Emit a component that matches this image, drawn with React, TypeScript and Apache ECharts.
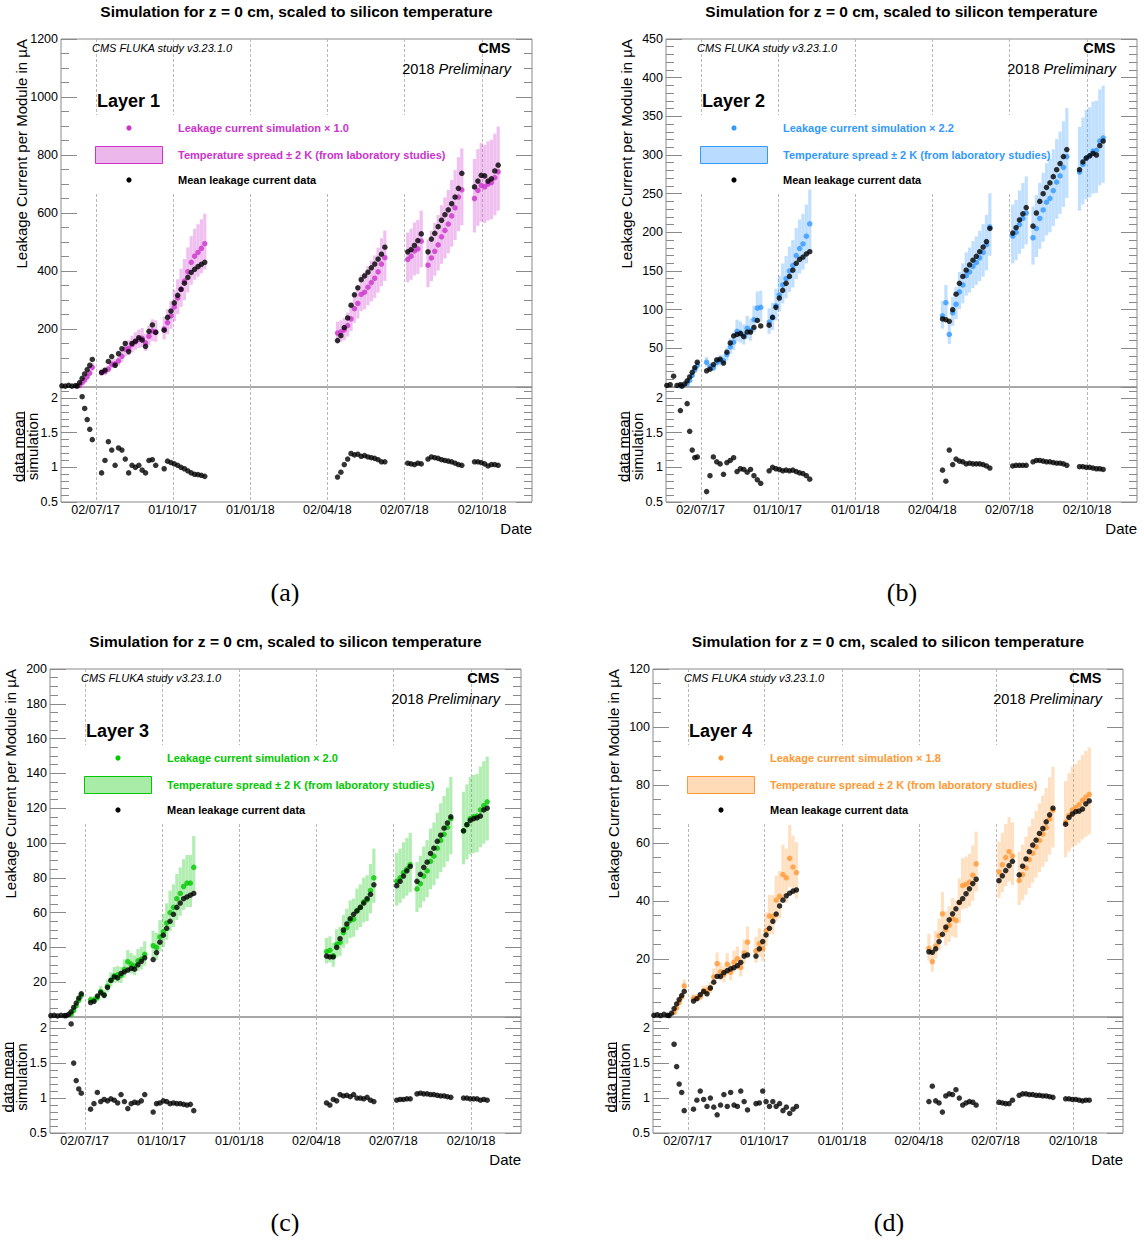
import React, { useEffect, useRef } from 'react';
import * as echarts from 'echarts';

// ---------- shared time grid (days since 2017-01-01) ----------
const days = [
  142, 146, 150, 154, 158,
  160, 163, 166, 169, 172, 175, 178,
  189, 193, 197, 201, 205, 209, 213, 217, 221, 225, 229, 233, 237, 241, 245, 249, 253,
  263, 267, 271, 275, 279, 283, 287, 291, 295, 299, 303, 307, 311,
  468, 472, 476, 480, 484, 488, 492, 496, 500, 504, 508, 512, 516, 520, 524,
  551, 555, 559, 563, 567,
  575, 579, 583, 587, 591, 595, 599, 603, 607, 611, 615,
  630, 634, 638, 642, 646, 650, 654, 658,
];

const tickDays = [182, 273, 365, 456, 547, 639];
const tickLabels = ['02/07/17', '01/10/17', '01/01/18', '02/04/18', '02/07/18', '02/10/18'];
const dayMin = 141;
const dayMax = 698;

// ---------- Layer 1 ----------
const data1 = [
  4, 3, 6, 3, 5,
  3, 15, 30, 45, 60, 75, 95,
  50, 58, 88, 105, 75, 115, 132, 150, 122, 150, 158, 170, 162, 140, 192, 214, 188,
  196, 240, 262, 290, 316, 337, 358, 378, 395, 406, 415, 423, 430,
  160, 177, 205, 238, 282, 318, 342, 370, 383, 396, 411, 424, 441, 458, 482,
  466, 474, 488, 505, 528,
  466, 510, 530, 553, 575, 594, 611, 632, 655, 685, 737,
  690, 710, 730, 728, 710, 718, 745, 765,
];
const sim1 = [
  null, null, null, null, null,
  null, 5, 15, 24, 35, 48, 68,
  50, 53, 62, 78, 80, 90, 106, 130, 133, 146, 156, 164, 168, 152, 175, 193, 190,
  200, 222, 245, 276, 307, 337, 365, 398, 430, 451, 464, 478, 494,
  186, 190, 197, 212, 235, 270, 288, 319, 327, 344, 360, 375, 397, 424, 446,
  440, 451, 469, 476, 503,
  420, 445, 468, 490, 518, 540, 562, 590, 618, 655, 680,
  650, 678, 695, 690, 700, 705, 722, 742,
];
const ratio1 = [
  null, null, null, null, null,
  null, null, 2.02, 1.85, 1.69, 1.55, 1.4,
  0.92, 1.1, 1.37, 1.25, 1.03, 1.28, 1.25, 1.12, 0.92, 1.03, 1.0, 1.03, 0.96, 0.92, 1.1, 1.11, 1.03,
  0.98, 1.09, 1.07, 1.05, 1.03, 1.0, 0.98, 0.95, 0.92, 0.9, 0.895, 0.885, 0.87,
  0.86, 0.93, 1.04, 1.12, 1.2, 1.18, 1.19, 1.16, 1.17, 1.15, 1.14, 1.13, 1.11, 1.08, 1.08,
  1.06, 1.05, 1.04, 1.06, 1.05,
  1.12, 1.15, 1.14, 1.13, 1.11, 1.1, 1.09, 1.08, 1.06, 1.04, 1.03,
  1.08, 1.08, 1.07, 1.05, 1.02, 1.04, 1.04, 1.03,
];

// ---------- Layer 2 ----------
const data2 = [
  2, 3, 14, 2, 3,
  1, 4, 8, 13, 19, 25, 32,
  21, 23, 29, 35, 36, 31, 45, 57, 66, 68, 69, 65, 71, 71, 77, 86, 79,
  80, 90, 103, 115, 125, 134, 143, 151, 160, 165, 168, 172, 175,
  88, 87, 85, 100, 120, 134, 143, 151, 158, 164, 169, 175, 181, 188, 205,
  199, 206, 216, 224, 232,
  208, 225, 240, 250, 258, 264, 272, 281, 289, 298, 307,
  281, 291, 296, 299, 302, 300, 312, 318,
];
const sim2 = [
  null, null, null, null, 1.6,
  null, null, 4.2, 8.5, 15, 22, 28,
  32, 26, 25, 32, 34, 34, 42, 52, 58, 72, 70, 67, 76, 73, 87, 102, 103,
  84, 90, 105, 119, 132, 140, 150, 157, 170, 179, 185, 195, 211,
  92, 109, 68, 96, 107, 123, 132, 144, 149, 156, 161, 167, 174, 184, 207,
  195, 200, 210, 218, 225,
  193, 205, 218, 229, 239, 244, 254, 265, 273, 284, 298,
  278, 288, 296, 299, 305, 306, 318, 322,
];
const ratio2 = [
  null, null, null, null, 1.82,
  null, null, 1.92, 1.52, 1.25, 1.14, 1.15,
  0.65, 0.88, 1.15, 1.08, 1.05, 0.9, 1.07, 1.1, 1.14, 0.94, 0.98, 0.97, 0.93, 0.97, 0.88, 0.82, 0.77,
  0.95, 1.0, 0.98, 0.97, 0.95, 0.96, 0.95, 0.96, 0.94, 0.92, 0.91, 0.88, 0.83,
  0.96, 0.8, 1.25, 1.04, 1.12, 1.09, 1.08, 1.05, 1.06, 1.05, 1.05, 1.05, 1.04, 1.02, 0.99,
  1.02, 1.03, 1.03, 1.03, 1.03,
  1.08, 1.1, 1.1, 1.09, 1.08, 1.08, 1.07, 1.06, 1.06, 1.05, 1.03,
  1.01, 1.01, 1.0, 1.0, 0.99, 0.98, 0.98, 0.97,
];

// ---------- Layer 3 ----------
const data3 = [
  0.8, 1, 0.6, 1, 0.8,
  0.8, 1.5, 3, 5.5, 8, 10.8, 13.3,
  8.3, 9, 12, 14, 12.5, 17, 21, 23, 22.5, 25, 26, 27, 28, 27.5, 30, 32, 34,
  33, 37, 43, 47, 51, 55, 59, 63, 65.5, 68, 69, 70, 71,
  35, 34.5, 34.5, 40, 45, 50, 53.5, 56.5, 59, 61, 63, 65.5, 68, 70.5, 76,
  75.5, 78, 81, 84, 86.5,
  78, 82, 86, 89, 94, 97, 101, 104.5, 108.5, 111.5, 115,
  107, 110.5, 113, 114, 114.5, 115.5, 119, 120,
];
const sim3 = [
  null, null, null, null, null,
  null, null, 1.5, 3.7, 6.4, 9.6, 12.4,
  9.9, 9.8, 11.1, 14.7, 12.8, 17.7, 21.2, 23.7, 24.2, 23.8, 27.4, 31.8, 30.4, 29.3, 32.3, 33.3, 36,
  41, 40, 46, 49, 54, 60, 63, 68, 71, 75, 77, 77, 86,
  37.6, 38.3, 35.2, 41.7, 42.9, 48.5, 51.4, 55.4, 56.2, 61, 63, 66.2, 67.3, 72.7, 80,
  78, 80, 83, 85, 87.5,
  73.6, 76.6, 81, 84, 89.5, 92.4, 97, 101.5, 105, 109, 114,
  107, 110.5, 114, 115, 115.5, 119, 121.5, 123.7,
];
const ratio3 = [
  null, null, null, null, null,
  null, null, 2.06, 1.5, 1.25, 1.13, 1.07,
  0.84, 0.92, 1.08, 0.95, 0.98, 0.96, 0.99, 0.97, 0.93, 1.05, 0.95, 0.85, 0.92, 0.94, 0.93, 0.96, 1.05,
  0.8, 0.92, 0.93, 0.96, 0.95, 0.92, 0.93, 0.92, 0.92, 0.91, 0.9, 0.91, 0.82,
  0.93, 0.9, 0.98, 0.96, 1.05, 1.03, 1.04, 1.02, 1.05, 1.0, 1.0, 0.99, 1.01, 0.97, 0.95,
  0.97, 0.98, 0.98, 0.99, 0.99,
  1.06, 1.07, 1.06, 1.06, 1.05, 1.05, 1.04, 1.03, 1.03, 1.02, 1.01,
  1.0, 1.0, 0.99, 0.99, 0.99, 0.97, 0.98, 0.97,
];

// ---------- Layer 4 ----------
const data4 = [
  0.6, 0.8, 0.5, 0.9, 0.6,
  0.5, 1.3, 2.9, 4.5, 6, 7.4, 8.8,
  5.5, 6.3, 7.7, 8.8, 8, 10, 12, 14, 14, 15.3, 16, 16.6, 17, 17.7, 18.8, 21, 21.4,
  21, 23.5, 26, 28.3, 30.6, 33, 35.5, 38.3, 40.3, 41.8, 42.7, 43.4, 43.8,
  22.5, 22.3, 23.5, 26, 28.5, 31, 33.5, 35.6, 37.3, 39.5, 40.8, 42.5, 44.2, 46, 47.5,
  47, 48.7, 50.5, 52.2, 53.7,
  49, 52, 54.5, 57, 59.3, 61, 63.3, 65, 67.3, 69.7, 72,
  66.5, 68.8, 70, 70.8, 71, 71.7, 73.5, 74.5,
];
const sim4 = [
  null, null, null, null, null,
  null, null, 1.6, 3.1, 5, 6.9, 10.7,
  6.5, 6.5, 7, 9, 9.1, 10, 13.8, 18.4, 15.6, 14.6, 18.2, 15.4, 18.9, 20.1, 17.1, 22.1, 25.8,
  22.8, 25.3, 23.6, 29.8, 34.8, 34.7, 40.3, 41.6, 49.1, 48, 54.7, 51.7, 49.8,
  23.7, 19.1, 24.5, 28, 35.6, 30.1, 31.6, 33.9, 33.3, 39.5, 45.3, 45.7, 46.5, 48.9, 52.8,
  50, 52.5, 55, 57, 55.5,
  47.1, 49.1, 51.4, 54.3, 56.5, 58.7, 60.9, 63.1, 65.3, 68.3, 71.3,
  67.2, 69.5, 71.4, 72.2, 73.2, 74.7, 75.8, 76.8,
];
const ratio4 = [
  null, null, null, null, null,
  null, null, 1.77, 1.45, 1.2, 1.08, 0.82,
  0.84, 0.97, 1.1, 0.98, 0.88, 1.0, 0.87, 0.76, 0.9, 1.05, 0.88, 1.08, 0.9, 0.88, 1.1, 0.95, 0.83,
  0.92, 0.93, 1.1, 0.95, 0.88, 0.95, 0.88, 0.92, 0.82, 0.87, 0.78, 0.84, 0.88,
  0.95, 1.17, 0.96, 0.93, 0.8, 1.03, 1.06, 1.05, 1.12, 1.0, 0.9, 0.93, 0.95, 0.94, 0.9,
  0.94, 0.93, 0.92, 0.92, 0.97,
  1.04, 1.06, 1.06, 1.05, 1.05, 1.04, 1.04, 1.03, 1.03, 1.02, 1.01,
  0.99, 0.99, 0.98, 0.98, 0.97, 0.96, 0.97, 0.97,
];

// temperature spread (+-2 K) expressed as relative factors on the simulation
const bandLow = 0.82;
const bandHigh = 1.21;

const layerNames = ['Layer 1', 'Layer 2', 'Layer 3', 'Layer 4'];
const simScales = ['1.0', '2.2', '2.0', '1.8'];
const captions = ['(a)', '(b)', '(c)', '(d)'];
const yMaxes = [1200, 450, 200, 120];
const yIntervals = [200, 50, 20, 20];
const yMinorSplits = [4, 5, 4, 4];
const dataSets = [data1, data2, data3, data4];
const simSets = [sim1, sim2, sim3, sim4];
const ratioSets = [ratio1, ratio2, ratio3, ratio4];

// ---------- styles / layout ----------
const colors = ['#cc33cc', '#3399ff', '#00c800', '#ff9933'];
const bandColors = ['rgba(204,51,204,0.3)', 'rgba(51,153,255,0.3)', 'rgba(0,200,0,0.3)', 'rgba(255,153,51,0.3)'];
const legendBoxFill = ['#ecb8ec', '#b8dbff', '#a8eca8', '#ffdbb8'];
const layouts = [
  { left: 61, top: 39, width: 471, lowerH: 115, capX: 285, capY: 592 },
  { left: 666, top: 39, width: 471, lowerH: 115, capX: 902, capY: 592 },
  { left: 50, top: 669, width: 471, lowerH: 116, capX: 285, capY: 1222 },
  { left: 653, top: 669, width: 470, lowerH: 116, capX: 889, capY: 1222 },
];
const UPPER_H = 348;
const FONT = "'Liberation Sans', Arial, Helvetica, sans-serif";
const FRAME = '#8a8a8a';
const MAJOR = 16;
const MINOR = 8;
const DOT = 5.5;

function pairs(vals: (number | null)[]) {
  const out: number[][] = [];
  days.forEach((d, k) => {
    const v = vals[k];
    if (v !== null && v !== undefined) out.push([d, v]);
  });
  return out;
}

function buildOption() {
  const grid: any[] = [];
  const xAxis: any[] = [];
  const yAxis: any[] = [];
  const series: any[] = [];
  const graphic: any[] = [];

  const tickLine = { lineStyle: { color: FRAME, width: 1 } };

  layouts.forEach((L, i) => {
    const gU = grid.length;
    grid.push({ left: L.left, top: L.top, width: L.width, height: UPPER_H, show: true, borderColor: FRAME, borderWidth: 1, backgroundColor: 'transparent' });
    const gL = grid.length;
    grid.push({ left: L.left, top: L.top + UPPER_H, width: L.width, height: L.lowerH, show: true, borderColor: FRAME, borderWidth: 1, backgroundColor: 'transparent' });

    const xU = xAxis.length;
    xAxis.push({
      type: 'value', gridIndex: gU, min: dayMin, max: dayMax,
      axisLine: { show: false }, axisTick: { show: false }, splitLine: { show: false },
      axisLabel: { show: false },
    });
    const xL = xAxis.length;
    xAxis.push({
      type: 'value', gridIndex: gL, min: dayMin, max: dayMax,
      axisLine: { show: false }, axisTick: { show: false }, splitLine: { show: false },
      axisLabel: {
        show: true, customValues: tickDays, margin: 1, fontSize: 12.5, color: '#000', fontFamily: FONT,
        formatter: (v: number) => {
          const idx = tickDays.indexOf(Math.round(v));
          return idx >= 0 ? tickLabels[idx] : '';
        },
      },
    });

    const yU = yAxis.length;
    const upperBase = {
      type: 'value', gridIndex: gU, min: 0, max: yMaxes[i], interval: yIntervals[i],
      axisLine: { show: false }, splitLine: { show: false },
      axisTick: { show: true, inside: true, length: MAJOR, ...tickLine },
      minorTick: { show: true, splitNumber: yMinorSplits[i], length: MINOR, ...tickLine },
      minorSplitLine: { show: false },
    };
    yAxis.push({
      ...upperBase, position: 'left',
      axisLabel: {
        show: true, showMinLabel: false, margin: 3, fontSize: 12.5, color: '#000', fontFamily: FONT,
        formatter: (v: number) => String(v),
      },
    });
    yAxis.push({ ...upperBase, position: 'right', axisLabel: { show: false } });

    const yR = yAxis.length;
    const ratioBase = (interval: number, len: number, pos: string, labels: boolean) => ({
      type: 'value', gridIndex: gL, min: 0.5, max: 2.16, interval, position: pos,
      axisLine: { show: false }, splitLine: { show: false },
      axisTick: { show: true, inside: true, length: len, ...tickLine },
      axisLabel: labels
        ? { show: true, showMaxLabel: false, margin: 3, fontSize: 12.5, color: '#000', fontFamily: FONT,
            formatter: (v: number) => String(v) }
        : { show: false },
    });
    yAxis.push(ratioBase(0.5, MAJOR, 'left', true));
    yAxis.push(ratioBase(0.1, MINOR, 'left', false));
    yAxis.push(ratioBase(0.5, MAJOR, 'right', false));
    yAxis.push(ratioBase(0.1, MINOR, 'right', false));

    // dashed date grid lines
    const gridLineSeries = (xi: number, yi: number) => ({
      type: 'custom', xAxisIndex: xi, yAxisIndex: yi, silent: true, z: 0,
      data: tickDays.map((d) => [d]),
      encode: { x: 0 },
      renderItem: (params: any, api: any) => {
        const cs = params.coordSys;
        const x = Math.round(api.coord([api.value(0), 0])[0]) + 0.5;
        return {
          type: 'line',
          shape: { x1: x, y1: cs.y, x2: x, y2: cs.y + cs.height },
          style: { stroke: '#b8b8b8', lineWidth: 1, lineDash: [3, 2] },
        };
      },
    });
    series.push(gridLineSeries(xU, yU));
    series.push(gridLineSeries(xL, yR));

    // temperature band
    const sim = simSets[i];
    const bandData: number[][] = [];
    days.forEach((d, k) => {
      const s = sim[k];
      if (s !== null && s !== undefined) bandData.push([d, s * bandLow, s * bandHigh]);
    });
    const bandColor = bandColors[i];
    series.push({
      type: 'custom', xAxisIndex: xU, yAxisIndex: yU, silent: true, z: 2, clip: true,
      data: bandData,
      encode: { x: 0, y: [1, 2] },
      renderItem: (params: any, api: any) => {
        const x = api.value(0);
        const top = api.coord([x, api.value(2)]);
        const bot = api.coord([x, api.value(1)]);
        const w = api.size([3.8, 0])[0];
        return {
          type: 'rect',
          shape: { x: top[0] - w / 2, y: top[1], width: w, height: bot[1] - top[1] },
          style: { fill: bandColor },
        };
      },
    });

    series.push({
      type: 'scatter', xAxisIndex: xU, yAxisIndex: yU, z: 3, silent: true, clip: true,
      symbol: 'circle', symbolSize: DOT, itemStyle: { color: colors[i] },
      data: pairs(sim),
    });
    series.push({
      type: 'scatter', xAxisIndex: xU, yAxisIndex: yU, z: 4, silent: true, clip: true,
      symbol: 'circle', symbolSize: DOT, itemStyle: { color: '#000' },
      data: pairs(dataSets[i]),
    });
    series.push({
      type: 'scatter', xAxisIndex: xL, yAxisIndex: yR, z: 4, silent: true, clip: true,
      symbol: 'circle', symbolSize: DOT, itemStyle: { color: '#000' },
      data: pairs(ratioSets[i]),
    });

    // ---------- texts ----------
    const right = L.left + L.width;
    const lowerBottom = L.top + UPPER_H + L.lowerH;
    const txt = (x: number, y: number, text: string, extra: any = {}, el: any = {}) => ({
      type: 'text', x, y, z: 10, silent: true, ...el,
      style: { text, fill: '#000', fontFamily: FONT, fontSize: 15, align: 'left', verticalAlign: 'middle', ...extra },
    });

    graphic.push(txt(L.left + L.width / 2, L.top - 28, 'Simulation for z = 0 cm, scaled to silicon temperature',
      { fontWeight: 'bold', fontSize: 15.5, align: 'center' }));
    graphic.push(txt(L.left - 40, L.top, 'Leakage Current per Module in \u00b5A',
      { fontSize: 15, align: 'right' }, { rotation: Math.PI / 2 }));
    const ratioMid = L.top + UPPER_H + L.lowerH / 2 + 2;
    graphic.push(txt(L.left - 43, ratioMid, 'data mean', { fontSize: 15, lineHeight: 13, align: 'center' }, { rotation: Math.PI / 2 }));
    graphic.push(txt(L.left - 29, ratioMid, 'simulation', { fontSize: 15, lineHeight: 13, align: 'center' }, { rotation: Math.PI / 2 }));
    graphic.push({
      type: 'line', z: 10, silent: true,
      shape: { x1: L.left - 36.5, y1: ratioMid - 35, x2: L.left - 36.5, y2: ratioMid + 35 },
      style: { stroke: '#000', lineWidth: 1 },
    });
    graphic.push(txt(right, lowerBottom + 26, 'Date', { fontSize: 15, align: 'right' }));
    graphic.push({
      type: 'text', x: L.capX, y: L.capY, z: 10, silent: true,
      style: { text: captions[i], fill: '#000', fontFamily: "'Liberation Serif', 'DejaVu Serif', serif", fontSize: 26, align: 'center', verticalAlign: 'middle' },
    });

    graphic.push(txt(L.left + 31, L.top + 9, 'CMS FLUKA study v3.23.1.0', { fontSize: 11, fontStyle: 'italic' }));
    graphic.push(txt(right - 21.5, L.top + 8.5, 'CMS', { fontSize: 14.5, fontWeight: 'bold', align: 'right' }));
    graphic.push({
      type: 'text', x: right - 21, y: L.top + 30, z: 10, silent: true,
      style: {
        text: '{n|2018 }{i|Preliminary}', align: 'right', verticalAlign: 'middle',
        rich: {
          n: { fontFamily: FONT, fontSize: 14.5, fill: '#000' },
          i: { fontFamily: FONT, fontSize: 14.5, fontStyle: 'italic', fill: '#000' },
        },
      },
    });
    graphic.push(txt(L.left + 36, L.top + 62, layerNames[i], { fontSize: 18, fontWeight: 'bold' }));

    // legend
    graphic.push({
      type: 'rect', z: 1, silent: true,
      shape: { x: L.left + 19, y: L.top + 76, width: 373, height: 78 },
      style: { fill: '#fff' },
    });
    graphic.push({
      type: 'circle', z: 10, silent: true,
      shape: { cx: L.left + 68, cy: L.top + 89, r: 2.6 }, style: { fill: colors[i] },
    });
    graphic.push({
      type: 'rect', z: 10, silent: true,
      shape: { x: L.left + 34.5, y: L.top + 107.5, width: 67, height: 17 },
      style: { fill: legendBoxFill[i], stroke: colors[i], lineWidth: 1 },
    });
    graphic.push({
      type: 'circle', z: 10, silent: true,
      shape: { cx: L.left + 68, cy: L.top + 141, r: 2.6 }, style: { fill: '#000' },
    });
    graphic.push(txt(L.left + 117, L.top + 89, `Leakage current simulation \u00d7 ${simScales[i]}`,
      { fontSize: 11, fontWeight: 'bold', fill: colors[i] }));
    graphic.push(txt(L.left + 117, L.top + 115.5, 'Temperature spread \u00b1 2 K (from laboratory studies)',
      { fontSize: 11, fontWeight: 'bold', fill: colors[i] }));
    graphic.push(txt(L.left + 117, L.top + 141, 'Mean leakage current data',
      { fontSize: 11, fontWeight: 'bold', fill: '#000' }));
  });

  return {
    animation: false,
    backgroundColor: '#fff',
    grid, xAxis, yAxis, series, graphic,
  };
}

export default function App() {
  const ref = useRef<HTMLDivElement>(null);
  useEffect(() => {
    if (!ref.current) return;
    const chart = echarts.init(ref.current, null, { renderer: 'svg' });
    chart.setOption(buildOption() as any);
    return () => chart.dispose();
  }, []);
  return (
    <div
      ref={ref}
      style={{ position: 'absolute', left: 0, top: 0, width: 1144, height: 1240, background: '#fff' }}
    />
  );
}
